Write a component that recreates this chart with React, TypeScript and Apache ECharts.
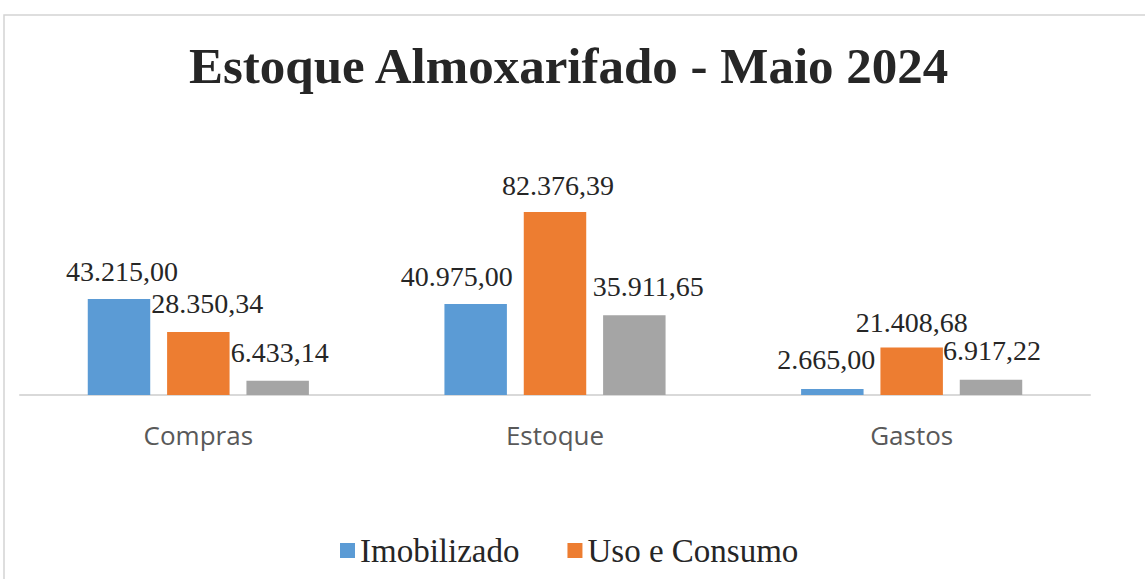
import React, { useEffect, useRef } from "react";
import * as echarts from "echarts";

const categories = ["Compras", "Estoque", "Gastos"];
const imobilizado = [43215.0, 40975.0, 2665.0];
const usoConsumo = [28350.34, 82376.39, 21408.68];
const outros = [6433.14, 35911.65, 6917.22];
const seriesNames = ["Imobilizado", "Uso e Consumo", "Outros"];
const titleText = "Estoque Almoxarifado - Maio 2024";

// label nudges (layout only)
const imobOffsets = [[3, 0], [-19, 0], [-6, -2]];
const usoOffsets = [[9, -1], [3, 1], [0, 3]];
const outrosOffsets = [[2, 0], [14, -1], [1, -1]];

function fmtBR(v: number): string {
  const fixed = v.toFixed(2);
  const [intPart, dec] = fixed.split(".");
  const withDots = intPart.replace(/\B(?=(\d{3})+(?!\d))/g, ".");
  return withDots + "," + dec;
}

function buildData(values: number[], offsets: number[][]) {
  return values.map((v, i) => ({ value: v, label: { offset: offsets[i] } }));
}

export default function App() {
  const ref = useRef<HTMLDivElement>(null);
  useEffect(() => {
    if (!ref.current) return;
    const chart = echarts.init(ref.current, null, { renderer: "svg" });
    const labelStyle = {
      show: true,
      position: "top",
      distance: 14,
      fontFamily: "Liberation Serif",
      fontSize: 28,
      color: "#262626",
      formatter: (p: any) => fmtBR(p.value),
    };
    const colors = ["#5B9BD5", "#ED7D31", "#A5A5A5"];
    const vals = [imobilizado, usoConsumo, outros];
    const offs = [imobOffsets, usoOffsets, outrosOffsets];
    chart.setOption({
      animation: false,
      backgroundColor: "#ffffff",
      title: {
        text: titleText,
        left: 184,
        top: 35,
        padding: 5,
        textStyle: {
          fontFamily: "Liberation Serif",
          fontWeight: "bold",
          fontSize: 51,
          color: "#262626",
        },
      },
      graphic: [
        {
          type: "rect",
          shape: { x: 4, y: 15, width: 1300, height: 800 },
          style: { fill: "none", stroke: "#d4d4d4", lineWidth: 1.5 },
          silent: true,
          z: -1,
        },
      ],
      legend: {
        data: [seriesNames[0], seriesNames[1]],
        left: 335,
        top: 529,
        padding: 5,
        icon: "rect",
        itemWidth: 15,
        itemHeight: 15,
        itemGap: 48,
        textStyle: {
          fontFamily: "Liberation Serif",
          fontSize: 33,
          color: "#262626",
        },
      },
      grid: { left: 20, right: 55, top: 173, bottom: 184, containLabel: false },
      xAxis: {
        type: "category",
        data: categories,
        axisLine: { lineStyle: { color: "#d9d9d9", width: 2 } },
        axisTick: { show: false },
        axisLabel: {
          margin: 27,
          fontFamily: "Open Sans",
          fontSize: 26,
          color: "#595959",
        },
      },
      yAxis: {
        type: "value",
        min: 0,
        max: 100000,
        show: false,
        splitLine: { show: false },
      },
      series: vals.map((v, i) => ({
        name: seriesNames[i],
        type: "bar",
        data: buildData(v, offs[i]),
        itemStyle: { color: colors[i] },
        barGap: "27%",
        barCategoryGap: "38%",
        label: labelStyle,
      })),
    });
    return () => chart.dispose();
  }, []);
  return (
    <div
      ref={ref}
      style={{ position: "fixed", left: 0, top: 0, width: 1145, height: 579 }}
    />
  );
}
